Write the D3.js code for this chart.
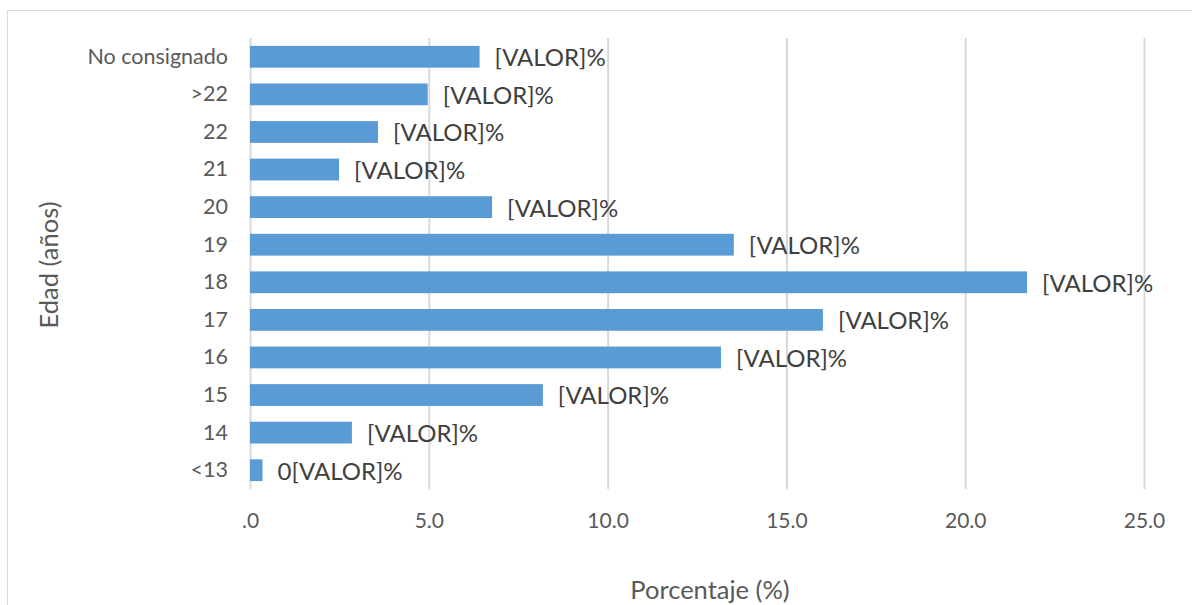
<!DOCTYPE html>
<html>
<head>
<meta charset="utf-8">
<script src="https://cdn.jsdelivr.net/npm/d3@7"></script>
<style>
  html, body { margin: 0; padding: 0; background: #fff; }
  svg { display: block; }
  text { font-family: Lato, "Open Sans", sans-serif; }
</style>
</head>
<body>
<svg id="chart" width="1192" height="605"></svg>
<script>
const categories = ["No consignado", ">22", "22", "21", "20", "19", "18", "17", "16", "15", "14", "<13"];
const values = [6.42, 4.97, 3.58, 2.49, 6.77, 13.53, 21.73, 16.02, 13.17, 8.19, 2.85, 0.35];
const labels = ["[VALOR]%", "[VALOR]%", "[VALOR]%", "[VALOR]%", "[VALOR]%", "[VALOR]%", "[VALOR]%", "[VALOR]%", "[VALOR]%", "[VALOR]%", "[VALOR]%", "0[VALOR]%"];
const xTicks = [0, 5, 10, 15, 20, 25];
const xTickLabels = [".0", "5.0", "10.0", "15.0", "20.0", "25.0"];
const xTitle = "Porcentaje (%)";
const yTitle = "Edad (años)";

const svg = d3.select("#chart");
const W = 1192, H = 605;
const plot = { left: 250, right: 1144, top: 38, bottom: 489 };

// outer border
svg.append("rect")
  .attr("x", 7.5).attr("y", 10.5)
  .attr("width", W - 7).attr("height", H)
  .attr("fill", "none").attr("stroke", "#d9d9d9").attr("stroke-width", 1);

const x = d3.scaleLinear().domain([0, 25]).range([plot.left, plot.right]);
const y = d3.scaleBand().domain(categories).range([plot.top, plot.bottom]).paddingInner(0.42).paddingOuter(0.21);

// gridlines via axis
const xAxis = d3.axisBottom(x).tickValues(xTicks)
  .tickFormat((d, i) => xTickLabels[i])
  .tickSize(-(plot.bottom - plot.top)).tickPadding(24);
const gx = svg.append("g").attr("transform", `translate(0,${plot.bottom})`).call(xAxis);
gx.select(".domain").remove();
gx.selectAll(".tick line").attr("stroke", "#d9d9d9").attr("stroke-width", 2);
gx.selectAll(".tick text").attr("fill", "#595959").style("font-size", "21px").style("font-family", "Lato, sans-serif");

// y axis labels
const yAxis = d3.axisLeft(y).tickSize(0).tickPadding(22);
const gy = svg.append("g").attr("transform", `translate(${plot.left},0)`).call(yAxis);
gy.select(".domain").remove();
gy.selectAll(".tick text").attr("fill", "#595959").style("font-size", "21.5px").style("font-family", "Lato, sans-serif");

// bars
svg.append("g").selectAll("rect").data(categories).join("rect")
  .attr("x", x(0))
  .attr("y", d => y(d))
  .attr("width", (d, i) => x(values[i]) - x(0))
  .attr("height", y.bandwidth())
  .attr("fill", "#5b9bd5");

// data labels
svg.append("g").selectAll("text").data(categories).join("text")
  .attr("x", (d, i) => x(values[i]) + 15)
  .attr("y", d => y(d) + y.bandwidth() / 2 + 1)
  .attr("dy", "0.35em")
  .attr("fill", "#404040")
  .style("font-size", "24px")
  .text((d, i) => labels[i]);

// axis titles
svg.append("text")
  .attr("x", 710).attr("y", 599)
  .attr("text-anchor", "middle")
  .attr("fill", "#595959").style("font-size", "25.5px")
  .text(xTitle);

svg.append("text")
  .attr("transform", "translate(58,265) rotate(-90)")
  .attr("text-anchor", "middle")
  .attr("fill", "#595959").style("font-size", "25.5px")
  .text(yTitle);
</script>
</body>
</html>
